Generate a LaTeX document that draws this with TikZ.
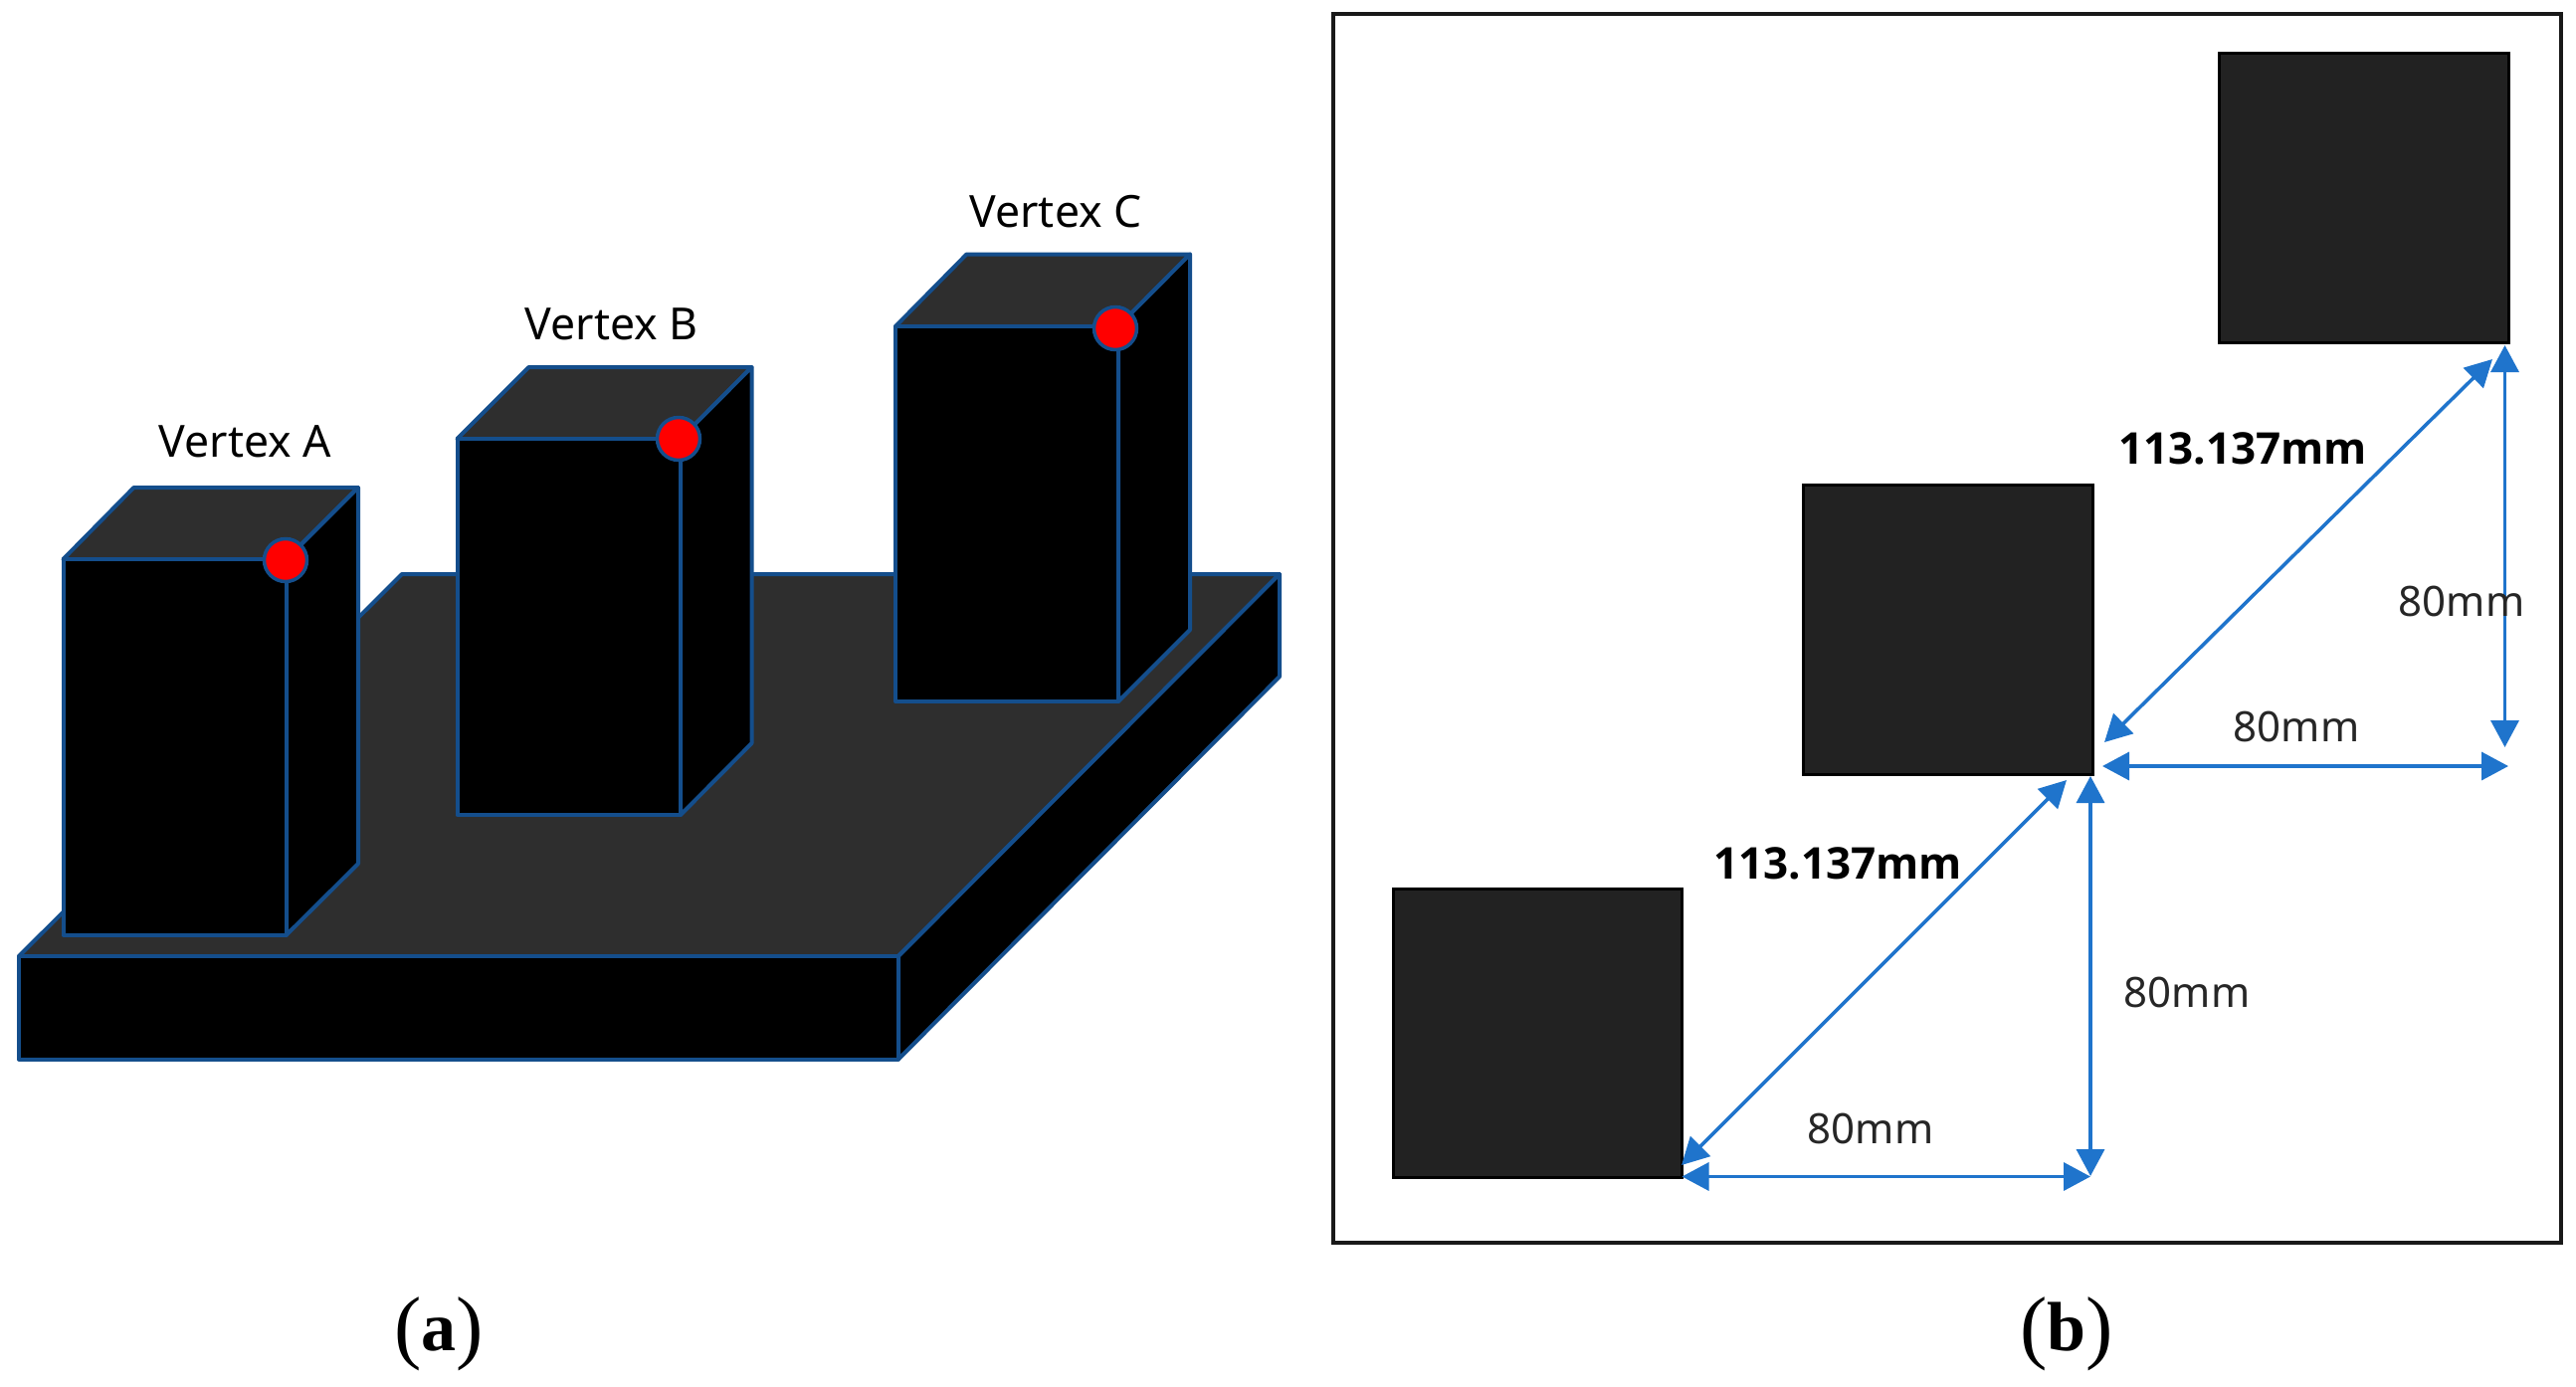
\documentclass[tikz,border=0pt]{standalone}
\usepackage{fontspec}
\setmainfont{Noto Sans}
\newfontfamily\capfont{Liberation Serif}
\newfontfamily\boldfam{Open Sans}
\usetikzlibrary{arrows.meta}
\definecolor{edgeblue}{HTML}{144E8C}
\definecolor{topgray}{HTML}{2E2E2E}
\definecolor{squaregray}{HTML}{222222}
\definecolor{arrowblue}{HTML}{1F74CC}
\tikzset{
  solid3d/.style={draw=edgeblue,line width=4pt,line join=round},
  marker/.style={circle,draw=edgeblue,line width=3.5pt,fill=red,minimum size=43pt,inner sep=0pt},
  squarebox/.style={draw=black,line width=3pt,fill=squaregray},
  dimarrow/.style={draw=arrowblue,line width=3.5pt,{Triangle[length=27pt,width=28pt,fill=arrowblue]}-{Triangle[length=27pt,width=28pt,fill=arrowblue]},shorten >=0pt,shorten <=0pt},
  vlabel/.style={font=\fontsize{44.5}{50}\selectfont,text=black,inner sep=0pt},
  dimlabel/.style={font=\fontsize{42}{50}\selectfont,text=black!85,inner sep=0pt},
  boldlabel/.style={font=\boldfam\fontsize{44}{50}\selectfont\bfseries,text=black,inner sep=0pt},
  caplabel/.style={font=\fontsize{70}{80}\selectfont\capfont,text=black,inner sep=0pt}
}
\newcommand{\bigparen}[1]{{\fontsize{82}{80}\selectfont\raisebox{-3pt}{#1}}}
\newcommand{\blockbox}[8]{%
  \path[solid3d,fill=topgray] (#1,#3) -- (#5,#7) -- (#6,#7) -- (#2,#3) -- cycle;
  \path[solid3d,fill=black] (#2,#3) -- (#6,#7) -- (#6,#8) -- (#2,#4) -- cycle;
  \path[solid3d,fill=black] (#1,#3) rectangle (#2,#4);
}
\begin{document}
\begin{tikzpicture}[x=1pt,y=-1pt]
\useasboundingbox (0,0) rectangle (2589,1393);
% panel (a): platform
\blockbox{19}{903}{961}{1064.5}{404}{1286}{577}{680}
% blocks
\blockbox{63.5}{288}{562}{939.5}{134.5}{360}{490}{868}
\blockbox{459.5}{684}{441}{819}{531.5}{755.5}{369}{747}
\blockbox{900}{1124}{328}{705}{971.5}{1196}{255.5}{633}
% vertex markers
\node[marker] (ma) at (287,563) {};
\node[marker] (mb) at (682,441) {};
\node[marker] (mc) at (1121,330) {};
\node[vlabel] (la) at (246.5,443.5) {Vertex A};
\node[vlabel] (lb) at (614.5,325.5) {Vertex B};
\node[vlabel] (lc) at (1061,212.5) {Vertex C};
\node[caplabel] (capa) at (441,1341) {\bigparen{(}\textbf{a}\bigparen{)}};
% panel (b)
\path[draw=black!90,line width=4pt,fill=white] (1339.5,14) rectangle (2574,1249);
\path[squarebox] (2230.5,53) rectangle (2521.5,344);
\path[squarebox] (1812.5,487) rectangle (2103,778);
\path[squarebox] (1400.5,893) rectangle (1690.5,1183);
% connector end points
\coordinate (h1a) at (1690.5,1182.5);
\coordinate (h1b) at (2101,1182.5);
\coordinate (v1a) at (2101,780);
\coordinate (v1b) at (2101,1182);
\coordinate (d1a) at (1690,1171);
\coordinate (d1b) at (2077,784);
\coordinate (h2a) at (2113,770);
\coordinate (h2b) at (2521,770);
\coordinate (v2a) at (2517.5,347);
\coordinate (v2b) at (2517.5,751);
\coordinate (d2a) at (2115,746);
\coordinate (d2b) at (2505,361);
\draw[dimarrow] (h1a) -- (h1b);
\draw[dimarrow] (v1a) -- (v1b);
\draw[dimarrow] (d1a) -- (d1b);
\draw[dimarrow] (h2a) -- (h2b);
\draw[dimarrow] (v2a) -- (v2b);
\draw[dimarrow] (d2a) -- (d2b);
\node[dimlabel] (t1) at (1880,1134.5) {80mm};
\node[dimlabel] (t2) at (2198,997) {80mm};
\node[dimlabel] (t3) at (2308,730) {80mm};
\node[dimlabel] (t4) at (2474,604) {80mm};
\node[boldlabel] (t5) at (1847,868) {113.137mm};
\node[boldlabel] (t6) at (2254,451) {113.137mm};
\node[caplabel] (capb) at (2077,1341) {\bigparen{(}\textbf{b}\bigparen{)}};
\end{tikzpicture}
\end{document}
